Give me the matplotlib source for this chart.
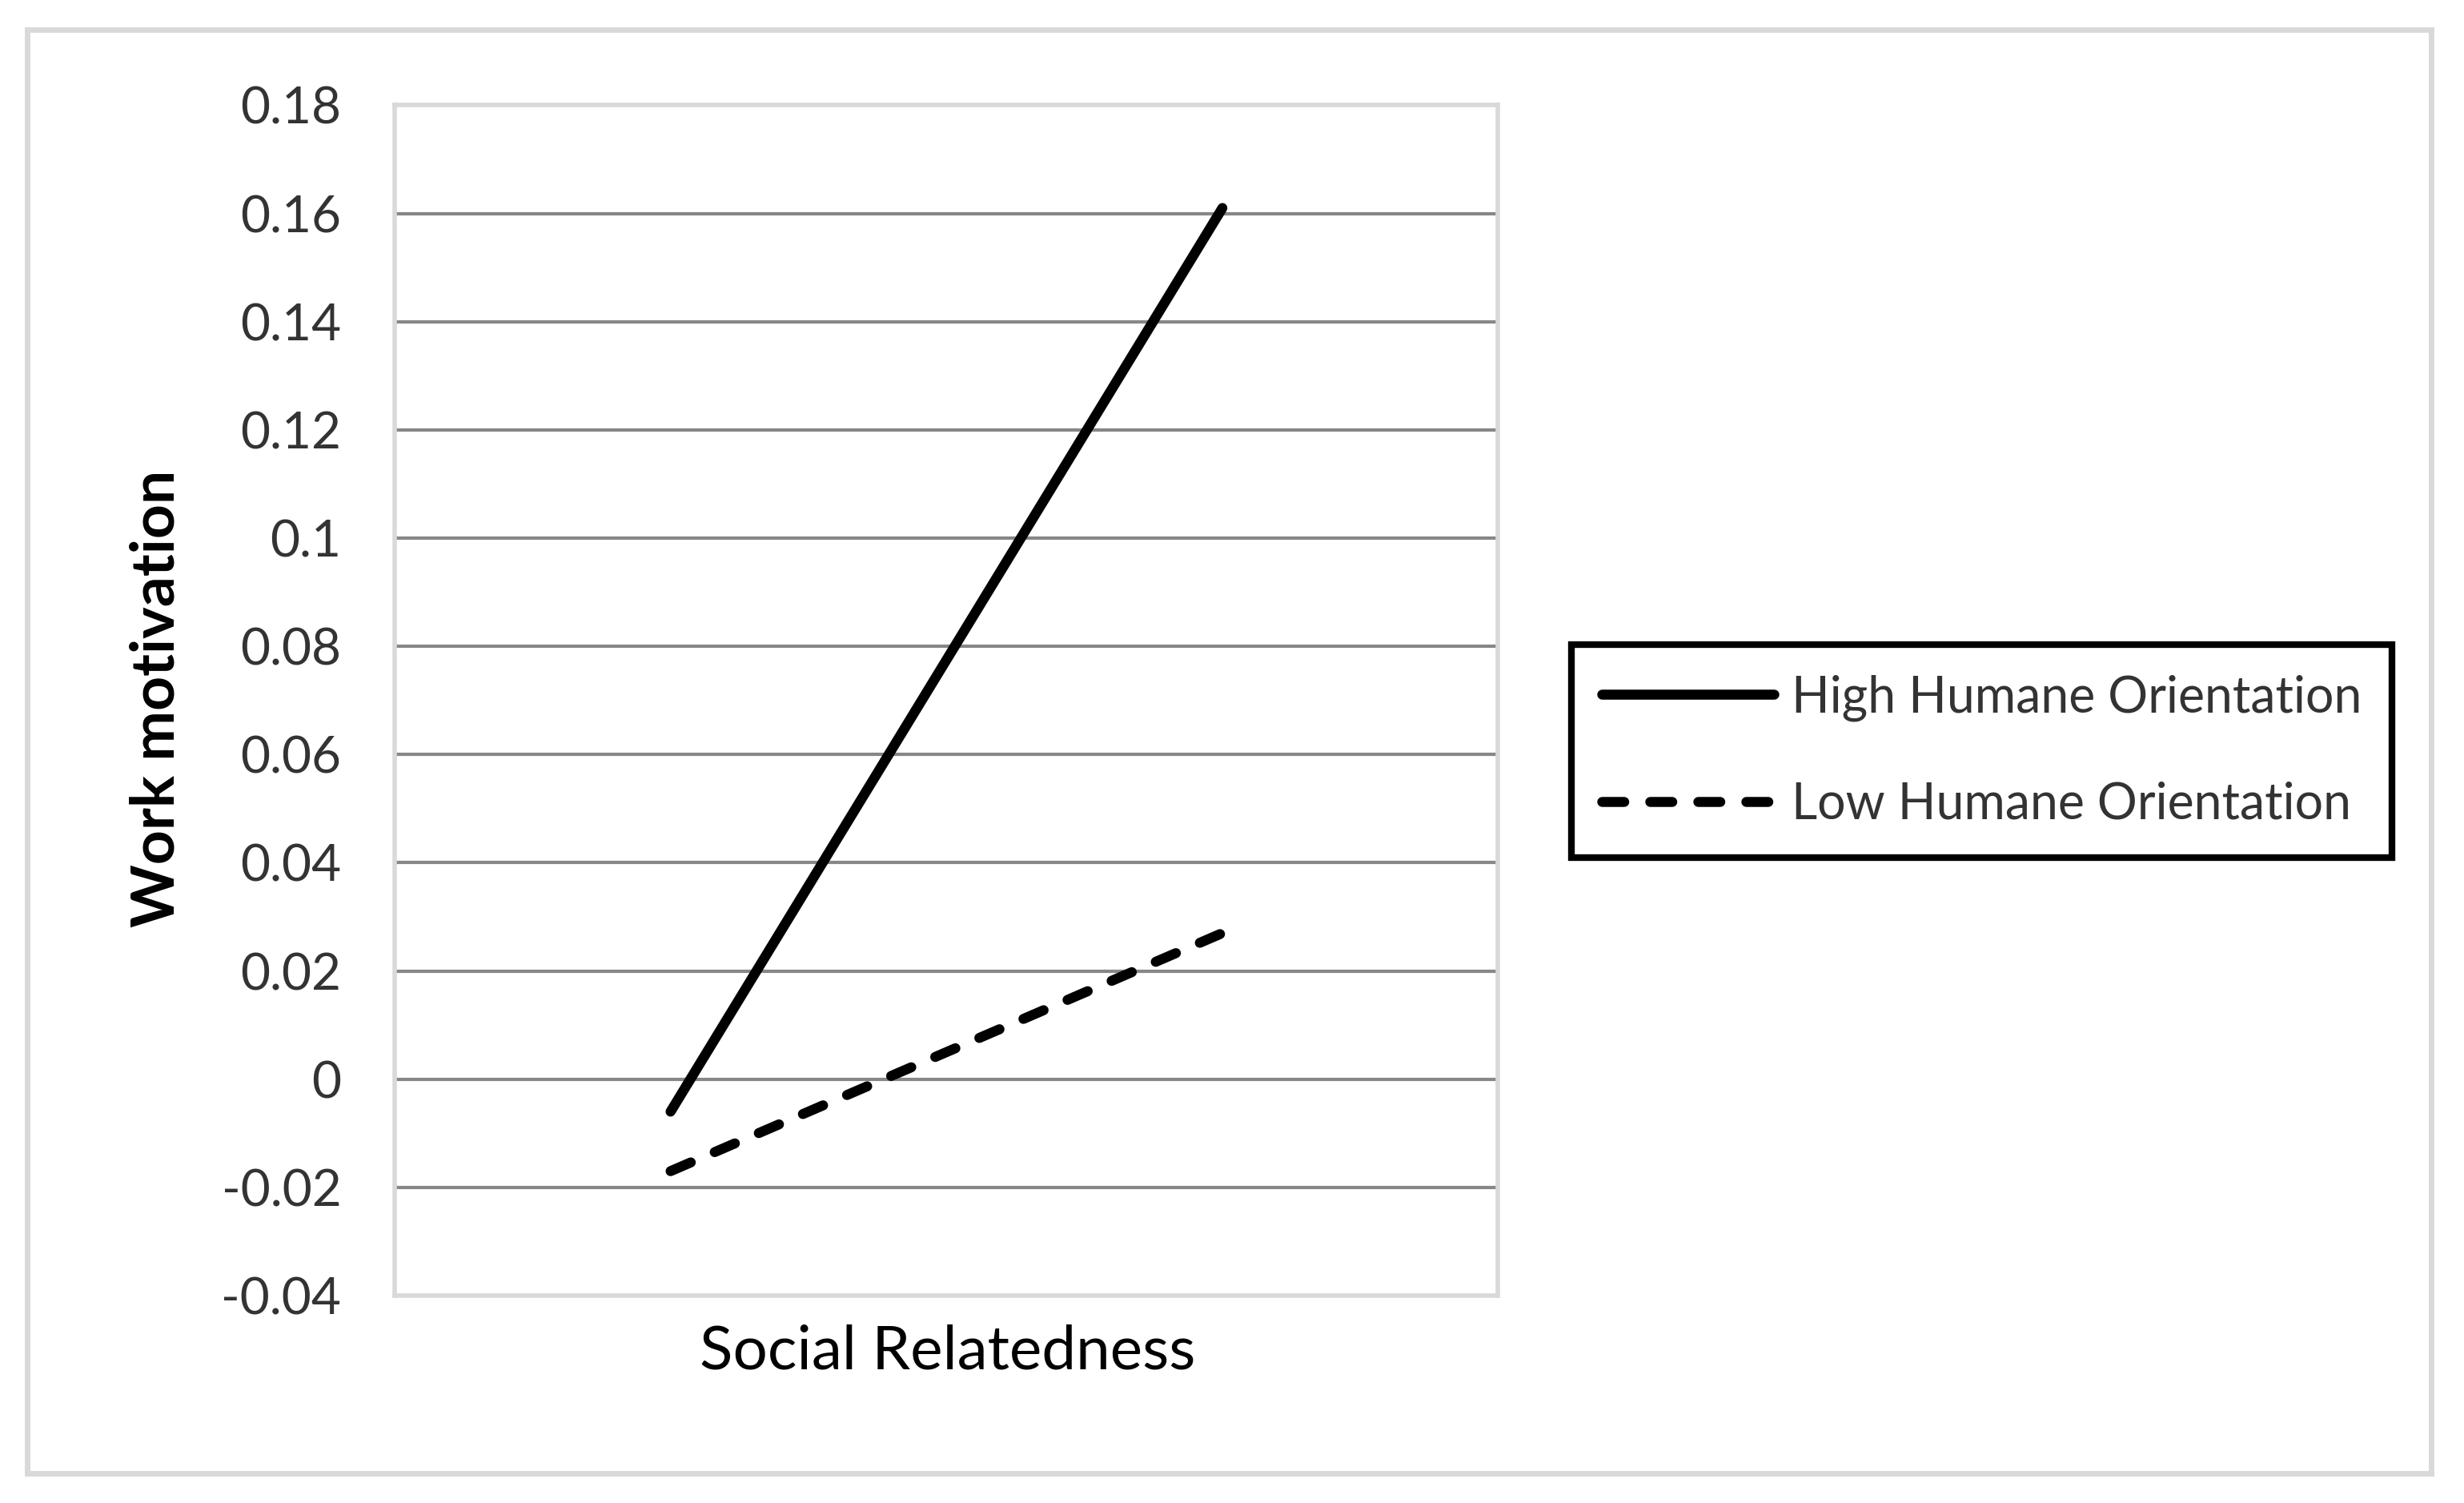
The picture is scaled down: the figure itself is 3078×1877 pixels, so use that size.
import matplotlib
matplotlib.use("Agg")
import matplotlib.pyplot as plt
from matplotlib.patches import Rectangle

# data
x_pos = [0, 1]
high_ho = [-0.006, 0.161]
low_ho = [-0.017, 0.027]
series_names = ["High Humane Orientation", "Low Humane Orientation"]
y_ticks = [-0.04, -0.02, 0, 0.02, 0.04, 0.06, 0.08, 0.1, 0.12, 0.14, 0.16, 0.18]
y_tick_labels = ["-0.04", "-0.02", "0", "0.02", "0.04", "0.06", "0.08", "0.1",
                 "0.12", "0.14", "0.16", "0.18"]

plt.rcParams['font.family'] = ['Lato', 'DejaVu Sans']

fig = plt.figure(figsize=(30.78, 18.77), dpi=100)
ax = fig.add_axes([493 / 3078, 0.138, (1871 - 493) / 3078, 0.792])

#outer frame
fig.patches.append(Rectangle((0.0112, 0.0195), 0.9755, 0.961, transform=fig.transFigure,
                             fill=False, edgecolor='#d9d9d9', linewidth=5))

ax.plot(x_pos, high_ho, color='black', linewidth=9, solid_capstyle='round',
        label=series_names[0])
ax.plot(x_pos, low_ho, color='black', linewidth=9, linestyle=(0, (2.2, 2.6)),
        dash_capstyle='round', label=series_names[1])

ax.set_xlim(-0.5, 1.499)
ax.set_ylim(-0.04, 0.18)
ax.set_yticks(y_ticks)
ax.set_yticklabels(y_tick_labels)
ax.set_xticks([])
ax.tick_params(axis='y', length=0, pad=48, labelsize=46, labelcolor='#333333')
ax.yaxis.grid(True, color='#878787', linewidth=3)
ax.set_axisbelow(True)
for s in ax.spines.values():
    s.set_color('#d9d9d9')
    s.set_linewidth(4)

fig.text(196 / 3078, 1 - 872 / 1877, "Work motivation", rotation=90, ha='center', va='center',
         fontsize=54, fontweight='bold', color='#000000')
fig.text(1184 / 3078, 1 - 1688 / 1877, "Social Relatedness", ha='center', va='center',
         fontsize=55, color='#000000')

leg = ax.legend(loc='center left', bbox_to_anchor=(1963 / 3078, 1 - 938 / 1877),
                bbox_transform=fig.transFigure, borderaxespad=0,
                fontsize=45, handlelength=3.45, handletextpad=0.35, borderpad=0.6,
                labelspacing=1.2, fancybox=False, framealpha=1)
leg.get_frame().set_edgecolor('black')
leg.get_frame().set_linewidth(6)
for t in leg.get_texts():
    t.set_color('#333333')

fig.savefig("out.png", dpi=100)
